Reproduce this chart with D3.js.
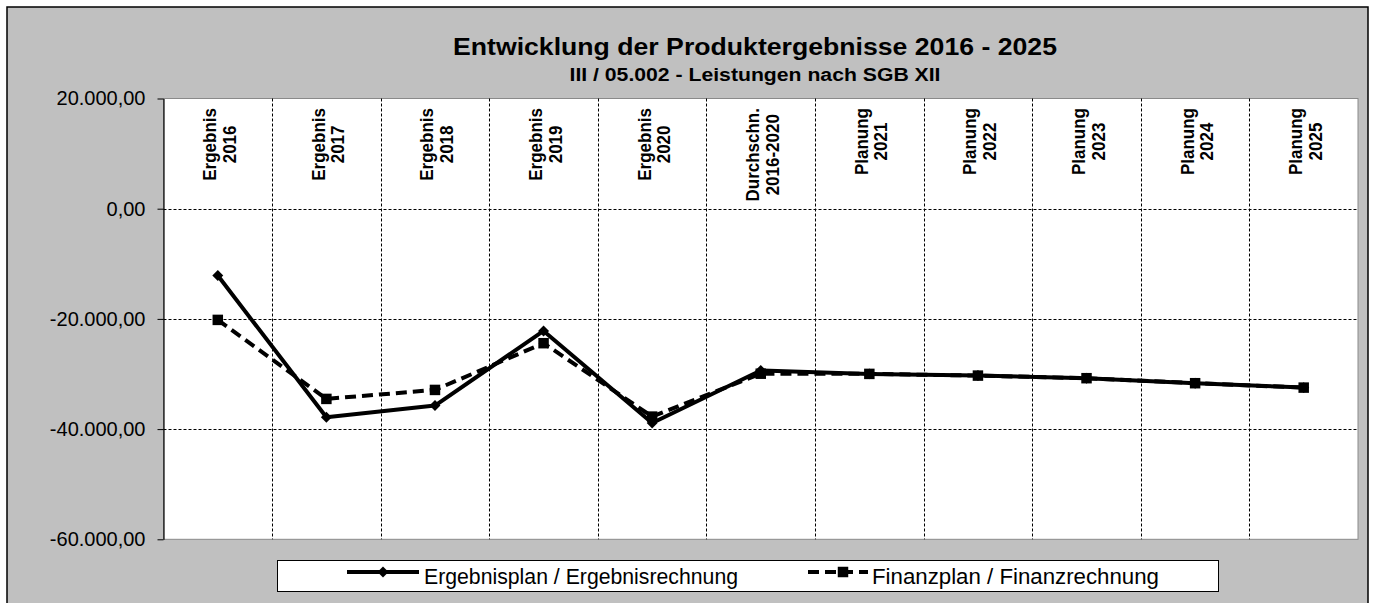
<!DOCTYPE html>
<html>
<head>
<meta charset="utf-8">
<script src="https://cdn.jsdelivr.net/npm/d3@7"></script>
<style>
  html, body { margin: 0; padding: 0; background: #ffffff; }
  svg { display: block; font-family: "Liberation Sans", Arial, sans-serif; }
</style>
</head>
<body>
<svg id="chart" width="1375" height="603"></svg>
<script>
// ---------- data ----------
const categoryLine1 = ["Ergebnis", "Ergebnis", "Ergebnis", "Ergebnis", "Ergebnis", "Durchschn.", "Planung", "Planung", "Planung", "Planung", "Planung"];
const categoryLine2 = ["2016", "2017", "2018", "2019", "2020", "2016-2020", "2021", "2022", "2023", "2024", "2025"];
const ergebnisValues = [-12140, -37840, -35730, -22180, -38880, -29354, -29980, -30290, -30760, -31670, -32470];
const finanzValues   = [-20180, -34520, -32890, -24410, -37730, -29946, -29980, -30290, -30760, -31670, -32470];
const yTickValues = [20000, 0, -20000, -40000, -60000];
const seriesNames = ["Ergebnisplan / Ergebnisrechnung", "Finanzplan / Finanzrechnung"];
const titleText = "Entwicklung der Produktergebnisse 2016 - 2025";
const subtitleText = "III  / 05.002 - Leistungen nach  SGB XII";

// ---------- layout ----------
const svg = d3.select("#chart");
const plot = { left: 163.5, right: 1358, top: 98.5, bottom: 539.3 };
const font = "'Liberation Sans', Arial, sans-serif";

// outer chart area
svg.append("rect").attr("x", 7).attr("y", 7).attr("width", 1361).attr("height", 620)
  .attr("fill", "#c0c0c0").attr("stroke", "#000").attr("stroke-width", 1.5);

const idx = d3.range(categoryLine1.length);
const x = d3.scaleBand().domain(idx).range([plot.left, plot.right]).paddingInner(0).paddingOuter(0);
const y = d3.scaleLinear().domain([-60000, 20000]).range([plot.bottom, plot.top]);
const cx = i => x(i) + x.bandwidth() / 2;

// plot background
svg.append("rect").attr("x", plot.left).attr("y", plot.top)
  .attr("width", plot.right - plot.left).attr("height", plot.bottom - plot.top)
  .attr("fill", "#fff").attr("stroke", "#8a8a8a").attr("stroke-width", 1);

// horizontal grid lines
svg.append("g").selectAll("line")
  .data(yTickValues.filter(v => v > -60000 && v < 20000))
  .join("line")
  .attr("x1", plot.left).attr("x2", plot.right)
  .attr("y1", d => Math.round(y(d)) + 0.5).attr("y2", d => Math.round(y(d)) + 0.5)
  .attr("stroke", "#000").attr("stroke-width", 1).attr("stroke-dasharray", "3,2");

// vertical category dividers
svg.append("g").selectAll("line")
  .data(idx.slice(1))
  .join("line")
  .attr("x1", d => Math.round(x(d)) + 0.5).attr("x2", d => Math.round(x(d)) + 0.5)
  .attr("y1", plot.top).attr("y2", plot.bottom)
  .attr("stroke", "#000").attr("stroke-width", 1).attr("stroke-dasharray", "3,2");

// y axis
const de = d3.formatLocale({ decimal: ",", thousands: ".", grouping: [3], currency: ["", " €"], minus: "-" });
const fmt = de.format(",.2f");
const yAxis = svg.append("g").attr("transform", `translate(${plot.left},0)`)
  .call(d3.axisLeft(y).tickValues(yTickValues).tickFormat(fmt).tickSize(6).tickSizeOuter(0).tickPadding(12));
yAxis.select(".domain").attr("stroke", "#000").attr("stroke-width", 1.2);
yAxis.selectAll(".tick line").attr("stroke", "#000");
yAxis.selectAll(".tick text").attr("font-family", font).attr("font-size", 20).attr("fill", "#000");

// category labels (rotated, top of plot)
const catG = svg.append("g");
idx.forEach(i => {
  const g = catG.append("g");
  const t1 = g.append("text").text(categoryLine1[i]);
  const t2 = g.append("text").text(categoryLine2[i]);
  [t1, t2].forEach(t => t.attr("font-family", font).attr("font-size", 17).attr("font-weight", "bold")
    .attr("text-anchor", "middle").attr("fill", "#000"));
  const len = Math.max(t1.node().getComputedTextLength(), t2.node().getComputedTextLength());
  const cy = 108 + len / 2;
  t1.attr("transform", `translate(${cx(i) - 1.5},${cy}) rotate(-90) scale(1,1.12)`);
  t2.attr("transform", `translate(${cx(i) + 18},${cy}) rotate(-90) scale(1,1.12)`);
});

// series lines
const line = d3.line().x((d, i) => cx(i)).y(d => y(d));
svg.append("path").datum(ergebnisValues).attr("d", line)
  .attr("fill", "none").attr("stroke", "#000").attr("stroke-width", 4).attr("stroke-linejoin", "round");
svg.append("path").datum(finanzValues).attr("d", line)
  .attr("fill", "none").attr("stroke", "#000").attr("stroke-width", 4)
  .attr("stroke-dasharray", "11,6").attr("stroke-linejoin", "round");

// markers
const diamond = d3.symbol(d3.symbolSquare, 60);
const square = d3.symbol(d3.symbolSquare, 110);
svg.append("g").selectAll("path").data(ergebnisValues).join("path")
  .attr("d", diamond).attr("transform", (d, i) => `translate(${cx(i)},${y(d)}) rotate(45)`)
  .attr("fill", "#000");
svg.append("g").selectAll("path").data(finanzValues).join("path")
  .attr("d", square).attr("transform", (d, i) => `translate(${cx(i)},${y(d)})`)
  .attr("fill", "#000");

// titles
svg.append("text").attr("x", 755).attr("y", 55).attr("text-anchor", "middle")
  .attr("font-family", font).attr("font-size", 23).attr("font-weight", "bold")
  .attr("textLength", 604).attr("lengthAdjust", "spacingAndGlyphs").text(titleText);
svg.append("text").attr("x", 755).attr("y", 81).attr("text-anchor", "middle")
  .attr("font-family", font).attr("font-size", 18).attr("font-weight", "bold")
  .attr("textLength", 371).attr("lengthAdjust", "spacingAndGlyphs").text(subtitleText);

// legend
const lg = svg.append("g");
lg.append("rect").attr("x", 277.5).attr("y", 560.5).attr("width", 941).attr("height", 31)
  .attr("fill", "#fff").attr("stroke", "#000").attr("stroke-width", 1);
const ly = 572;
lg.append("line").attr("x1", 347).attr("x2", 419).attr("y1", ly).attr("y2", ly)
  .attr("stroke", "#000").attr("stroke-width", 4);
lg.append("path").attr("d", diamond).attr("transform", `translate(383,${ly}) rotate(45)`).attr("fill", "#000");
lg.append("text").attr("x", 424).attr("y", 583.5).attr("font-family", font).attr("font-size", 21.5)
  .attr("textLength", 314).attr("lengthAdjust", "spacingAndGlyphs").text(seriesNames[0]);
lg.append("line").attr("x1", 808).attr("x2", 868).attr("y1", ly).attr("y2", ly)
  .attr("stroke", "#000").attr("stroke-width", 4).attr("stroke-dasharray", "11,6");
lg.append("path").attr("d", square).attr("transform", `translate(843,${ly})`).attr("fill", "#000");
lg.append("text").attr("x", 872).attr("y", 583.5).attr("font-family", font).attr("font-size", 21.5)
  .attr("textLength", 287).attr("lengthAdjust", "spacingAndGlyphs").text(seriesNames[1]);
</script>
</body>
</html>
